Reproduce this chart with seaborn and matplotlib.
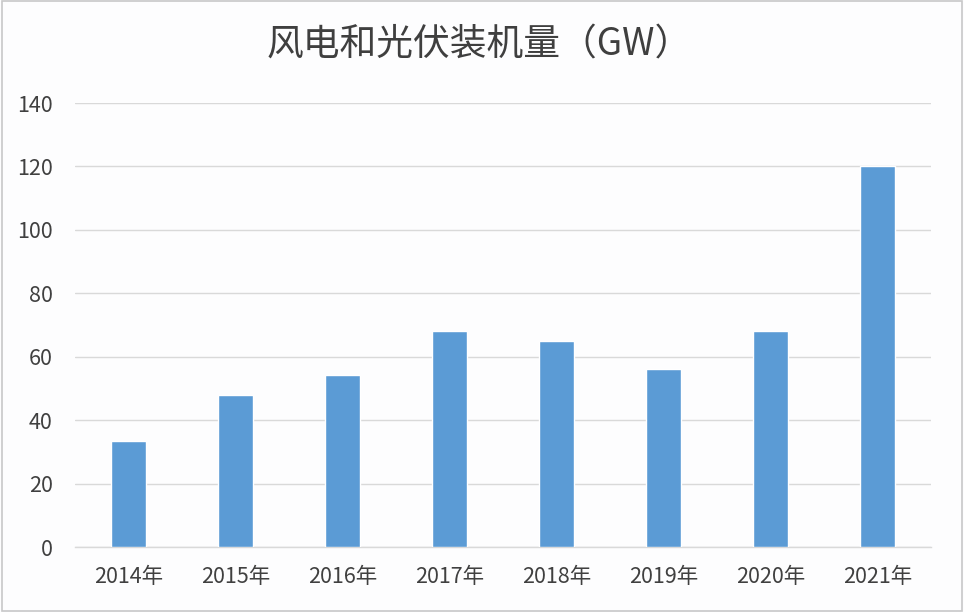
import matplotlib
matplotlib.use("Agg")
import matplotlib.pyplot as plt
import seaborn as sns
import pandas as pd
from matplotlib.patches import Rectangle

years = ["2014年", "2015年", "2016年", "2017年", "2018年", "2019年", "2020年", "2021年"]
capacity = [33.3, 47.8, 54.1, 68.0, 64.9, 56.0, 68.0, 120.0]
yticks = [0, 20, 40, 60, 80, 100, 120, 140]
title = "风电和光伏装机量（GW）"

sns.set_theme(style="white")
plt.rcParams['font.family'] = ['Noto Sans CJK SC', 'DejaVu Sans']

df = pd.DataFrame({"year": years, "value": capacity})

fig = plt.figure(figsize=(9.64, 6.12), dpi=100, facecolor="#fdfdfe")
ax = fig.add_axes([75/964, 1-547/612, (931-75)/964, (547-103)/612])
ax.set_facecolor("#fdfdfe")

sns.barplot(data=df, x="year", y="value", color="#5B9BD5", saturation=1,
            width=0.32, ax=ax, zorder=3)

ax.set_ylim(0, 140)
ax.set_yticks(yticks)
ax.set_xlim(-0.5, len(years) - 0.5)
ax.grid(axis="y", color="#d9d9d9", linewidth=1, zorder=0)
ax.grid(axis="x", visible=False)
for s in ["top", "right", "left"]:
    ax.spines[s].set_visible(False)
ax.spines["bottom"].set_color("#d9d9d9")
ax.spines["bottom"].set_linewidth(1)
ax.set_xlabel("")
ax.set_ylabel("")
ax.tick_params(axis="both", length=0, labelsize=15.5, labelcolor="#404040")
ax.tick_params(axis="y", pad=16)
ax.tick_params(axis="x", pad=14)

fig.text(479/964, 1-45/612, title, ha="center", va="center", fontsize=26.5,
         color="#3f3f3f", fontweight="light")

fig.patches.append(Rectangle((0.002, 0.002), 0.996, 0.996, transform=fig.transFigure,
                             fill=False, edgecolor="#c8c8c8", linewidth=1.2))

fig.savefig("out.png", dpi=100, facecolor=fig.get_facecolor())
